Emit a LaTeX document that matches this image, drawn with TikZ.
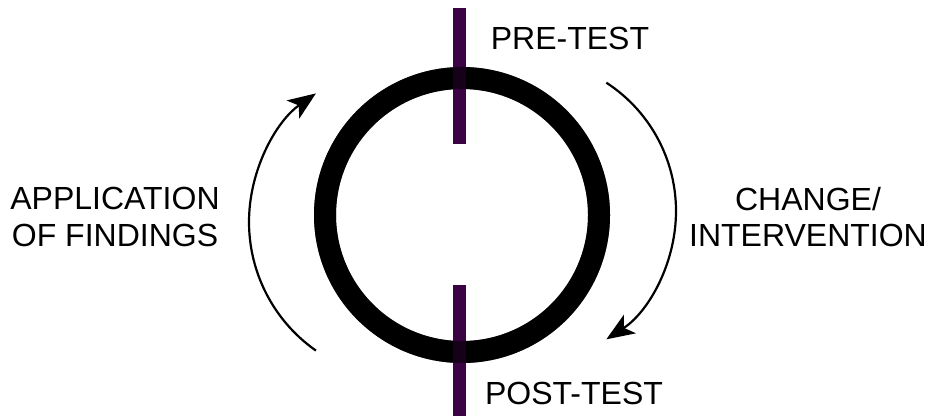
\documentclass[tikz,border=0pt]{standalone}
\usepackage{fontspec}
\setmainfont{Liberation Sans}
\usetikzlibrary{positioning, arrows.meta, calc}
\definecolor{tickpurple}{HTML}{3B0343}

\begin{document}
\begin{tikzpicture}[
  x=1pt, y=-1pt,
  font=\fontsize{32}{36.5}\selectfont,
  ring/.style={
    draw=black,
    line width=22pt,
    circle,
    minimum size=274pt,
    inner sep=0pt
  },
  tick/.style={
    fill=tickpurple,
    rectangle,
    minimum width=13pt,
    inner sep=0pt
  },
  label/.style={
    align=center,
    inner sep=0pt,
    text=black
  },
  cycle/.style={
    -{Stealth[length=28pt, width=22pt, inset=7pt]},
    line width=2.2pt
  }
]
  \useasboundingbox (0,0) rectangle (928,416);

  % --- Ring and the two test ticks ---
  \node[ring] (loop) at (462,215) {};
  \node[tick, minimum height=136pt] (pretick)  at (459.5,76) {};
  \node[tick, minimum height=131pt] (posttick) at (459.5,350.5) {};
  % darken where the ticks cross the ring
  \node[ring, draw opacity=0.6] (loopshade) at (loop) {};

  % --- Labels ---
  \node[label] (pre)    at (570,38)    {PRE-TEST};
  \node[label] (post)   at (574,393.5) {POST-TEST};
  \node[label] (change) at (808,217)   {CHANGE/\\INTERVENTION};
  \node[label] (apply)  at (115,217)   {APPLICATION\\OF FINDINGS};

  % --- Curved arrows round the ring ---
  \coordinate (rstart) at ($(523,211)+(57:153pt)$);
  \coordinate (lstart) at ($(406,222)+(235:157pt)$);
  \draw[cycle] (rstart) arc[start angle=57, end angle=-57, radius=153pt];
  \draw[cycle] (lstart) arc[start angle=235, end angle=125, radius=157pt];

\end{tikzpicture}
\end{document}
